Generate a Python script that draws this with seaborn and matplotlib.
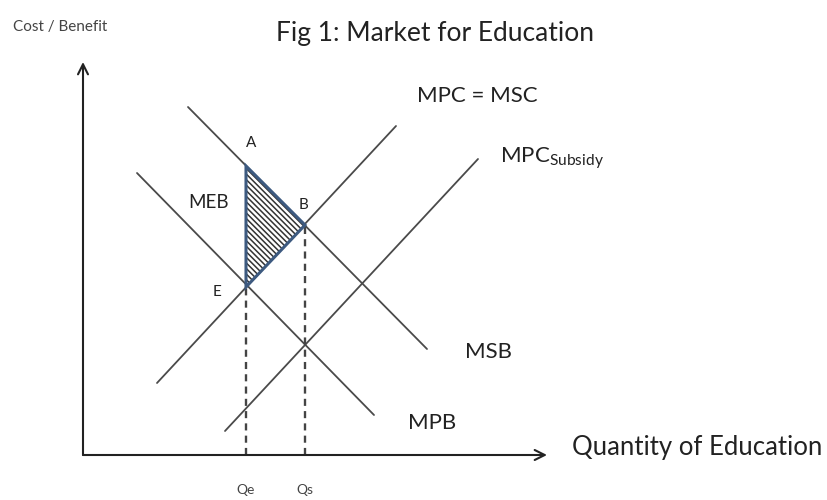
import numpy as np
import pandas as pd
import matplotlib
matplotlib.use("Agg")
import matplotlib.pyplot as plt
import seaborn as sns

# curve end points (quantity, cost/benefit)
msb_q = [10.5, 34.4]
msb_p = [34.8, 10.6]
mpb_q = [5.4, 29.1]
mpb_p = [28.2, 4.0]
mpc_q = [7.4, 31.3]
mpc_p = [7.2, 32.9]
sub_q = [14.2, 39.5]
sub_p = [2.4, 29.6]

# welfare-gain triangle A-B-E
tri_q = [16.3, 22.2, 16.3]
tri_p = [28.9, 23.0, 16.8]
qe, qs = 16.3, 22.2

sns.set_style("white")
plt.rcParams['font.family'] = ['Lato', 'DejaVu Sans']
plt.rcParams['mathtext.fontset'] = 'custom'
plt.rcParams['mathtext.rm'] = 'Lato'
plt.rcParams['hatch.linewidth'] = 1.1

fig = plt.figure(figsize=(8.27, 5.0), dpi=100)
ax = fig.add_axes([0, 0, 1, 1])
ax.set_xlim(-8.3, 74.4)
ax.set_ylim(-4.5, 45.5)
ax.axis("off")

line_col = "#4a4a4a"
for q, p in [(msb_q, msb_p), (mpb_q, mpb_p), (mpc_q, mpc_p), (sub_q, sub_p)]:
    sns.lineplot(x=q, y=p, ax=ax, color=line_col, linewidth=1.3,
                 estimator=None, sort=False, legend=False)

# dashed drop lines to the quantity axis
for q, p in [(qe, tri_p[2]), (qs, tri_p[1])]:
    sns.lineplot(x=[q, q], y=[0, p], ax=ax, color="#444444", linewidth=1.7,
                 linestyle=(0, (3, 2.2)), estimator=None, sort=False)

ax.fill(tri_q, tri_p, facecolor="white", edgecolor="#333333", linewidth=0,
        hatch="\\\\\\\\\\\\", zorder=3)
ax.fill(tri_q, tri_p, facecolor="none", edgecolor="#3d5a80", linewidth=2.2, zorder=4)

# axes with open arrow heads
ax.annotate("", xy=(0, 39.3), xytext=(0, 0),
            arrowprops=dict(arrowstyle="->", color="#222222", lw=1.5,
                            mutation_scale=18, shrinkA=0, shrinkB=0))
ax.annotate("", xy=(46.4, 0), xytext=(0, 0),
            arrowprops=dict(arrowstyle="->", color="#222222", lw=1.5,
                            mutation_scale=18, shrinkA=0, shrinkB=0))

txt = "#222222"
ax.text(35.15, 42.2, "Fig 1: Market for Education", fontsize=19, color=txt,
        ha="center", va="center")
ax.text(-7.0, 42.8, "Cost / Benefit", fontsize=11, color="#444444",
        ha="left", va="center")
ax.text(33.4, 35.9, "MPC = MSC", fontsize=16, color=txt, ha="left", va="center")
ax.text(41.7, 29.7, r"MPC$_{\mathrm{Subsidy}}$", fontsize=16, color=txt,
        ha="left", va="center")
ax.text(38.2, 10.3, "MSB", fontsize=16, color=txt, ha="left", va="center")
ax.text(32.5, 3.2, "MPB", fontsize=16, color=txt, ha="left", va="center")
ax.text(10.5, 25.2, "MEB", fontsize=13.5, color=txt, ha="left", va="center")
ax.text(16.8, 31.2, "A", fontsize=11, color=txt, ha="center", va="center")
ax.text(22.0, 25.0, "B", fontsize=11, color=txt, ha="center", va="center")
ax.text(13.4, 16.3, "E", fontsize=11, color=txt, ha="center", va="center")
ax.text(qe, -3.5, "Qe", fontsize=10, color="#444444", ha="center", va="center")
ax.text(qs, -3.5, "Qs", fontsize=10, color="#444444", ha="center", va="center")
ax.text(48.9, 0.7, "Quantity of Education", fontsize=18.5, color=txt,
        ha="left", va="center")

fig.savefig("out.png", dpi=100)
